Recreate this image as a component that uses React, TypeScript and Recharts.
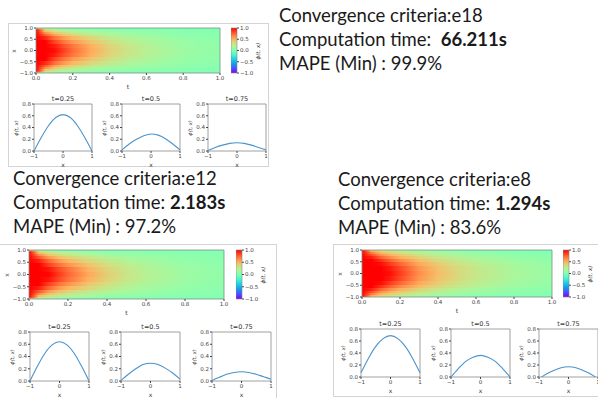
import React from "react";
import { ComposedChart, LineChart, Line, XAxis, YAxis, ReferenceArea } from "recharts";

// heatmap samples: t positions of the gradient stops, |x| positions of the rows
const T_STOPS = [0, 0.05, 0.1, 0.15, 0.2, 0.3, 0.4, 0.5, 0.6, 0.8, 1.0];
const ROW_POS = [0, 0.2, 0.4, 0.55, 0.7, 0.8, 0.88, 0.94, 0.98, 1.0];

const FIELD_E18 = [
  [1.3, 1.12, 0.97, 0.84, 0.72, 0.53, 0.39, 0.29, 0.22, 0.12, 0.07],
  [1.3, 1.09, 0.93, 0.8, 0.69, 0.51, 0.37, 0.28, 0.21, 0.11, 0.07],
  [1.28, 1.0, 0.83, 0.7, 0.59, 0.44, 0.32, 0.24, 0.18, 0.1, 0.06],
  [1.25, 0.9, 0.72, 0.59, 0.49, 0.36, 0.26, 0.19, 0.15, 0.08, 0.05],
  [1.2, 0.76, 0.57, 0.45, 0.37, 0.27, 0.19, 0.14, 0.11, 0.06, 0.04],
  [1.15, 0.62, 0.44, 0.34, 0.27, 0.19, 0.14, 0.1, 0.08, 0.04, 0.03],
  [1.05, 0.46, 0.31, 0.23, 0.18, 0.12, 0.09, 0.06, 0.05, 0.03, 0.02],
  [0.9, 0.3, 0.18, 0.13, 0.1, 0.07, 0.05, 0.03, 0.03, 0.02, 0.01],
  [0.6, 0.15, 0.08, 0.06, 0.04, 0.03, 0.02, 0.01, 0.01, 0.01, 0],
  [0.3, 0.05, 0.02, 0.01, 0.01, 0.01, 0, 0, 0, 0, 0],
];

const FIELD_E12 = [
  [1.3, 1.14, 0.99, 0.86, 0.74, 0.55, 0.4, 0.29, 0.22, 0.12, 0.07],
  [1.3, 1.11, 0.95, 0.82, 0.71, 0.52, 0.38, 0.28, 0.21, 0.11, 0.07],
  [1.28, 1.02, 0.85, 0.72, 0.61, 0.45, 0.33, 0.24, 0.18, 0.1, 0.06],
  [1.25, 0.92, 0.74, 0.6, 0.5, 0.37, 0.27, 0.2, 0.15, 0.08, 0.05],
  [1.2, 0.78, 0.59, 0.47, 0.38, 0.28, 0.2, 0.15, 0.11, 0.06, 0.04],
  [1.15, 0.64, 0.45, 0.35, 0.28, 0.2, 0.14, 0.1, 0.08, 0.05, 0.03],
  [1.05, 0.48, 0.32, 0.24, 0.19, 0.13, 0.09, 0.07, 0.05, 0.03, 0.02],
  [0.9, 0.31, 0.19, 0.14, 0.1, 0.07, 0.05, 0.04, 0.03, 0.02, 0.01],
  [0.6, 0.15, 0.08, 0.06, 0.04, 0.03, 0.02, 0.02, 0.01, 0.01, 0.01],
  [0.3, 0.05, 0.02, 0.01, 0.01, 0.01, 0.01, 0.01, 0.01, 0.01, 0.01],
];

const FIELD_E8 = [
  [1.3, 1.2, 1.08, 0.96, 0.85, 0.62, 0.47, 0.36, 0.28, 0.17, 0.1],
  [1.3, 1.18, 1.05, 0.93, 0.82, 0.6, 0.45, 0.35, 0.27, 0.16, 0.1],
  [1.28, 1.12, 0.97, 0.85, 0.74, 0.54, 0.41, 0.31, 0.24, 0.14, 0.09],
  [1.25, 1.05, 0.88, 0.75, 0.64, 0.47, 0.35, 0.27, 0.2, 0.12, 0.07],
  [1.2, 0.92, 0.74, 0.62, 0.52, 0.38, 0.28, 0.21, 0.16, 0.09, 0.05],
  [1.15, 0.8, 0.62, 0.51, 0.42, 0.3, 0.22, 0.16, 0.12, 0.07, 0.03],
  [1.1, 0.68, 0.5, 0.4, 0.33, 0.23, 0.16, 0.12, 0.08, 0.04, 0.02],
  [1.05, 0.55, 0.38, 0.3, 0.24, 0.17, 0.12, 0.08, 0.05, 0.02, 0],
  [1.0, 0.45, 0.3, 0.23, 0.19, 0.13, 0.09, 0.05, 0.03, 0, -0.02],
  [0.95, 0.4, 0.26, 0.2, 0.16, 0.11, 0.07, 0.04, 0.01, -0.02, -0.03],
];

const T_TICKS = [0, 0.2, 0.4, 0.6, 0.8, 1.0];
const X_TICKS = [-1, -0.5, 0, 0.5, 1];
const CBAR_TICKS = [-1, -0.5, 0, 0.5, 1];
const CBAR_LEVELS = [1, 0.8, 0.6, 0.4, 0.2, 0, -0.2, -0.4, -0.6, -0.8, -1];

// slices phi(t, x) at t = 0.25 / 0.5 / 0.75
const SLICE_TITLES = ["t=0.25", "t=0.5", "t=0.75"];
const SLICE_X = [-1, -0.75, -0.5, -0.25, 0, 0.25, 0.5, 0.75, 1];
const SLICE_TICKS_X = [-1, 0, 1];
const SLICE_TICKS_Y = [0, 0.2, 0.4, 0.6, 0.8];

const SLICES_E18 = [
  [0, 0.23, 0.43, 0.57, 0.62, 0.57, 0.43, 0.23, 0],
  [0.02, 0.12, 0.2, 0.26, 0.29, 0.27, 0.21, 0.12, 0.02],
  [0.01, 0.06, 0.1, 0.13, 0.14, 0.13, 0.1, 0.06, 0.02],
];
const SLICES_E12 = [
  [0, 0.24, 0.45, 0.59, 0.64, 0.59, 0.45, 0.24, 0],
  [0.01, 0.11, 0.2, 0.27, 0.29, 0.27, 0.21, 0.13, 0.03],
  [0.01, 0.06, 0.11, 0.14, 0.15, 0.14, 0.11, 0.07, 0.03],
];
const SLICES_E8 = [
  [0.07, 0.31, 0.51, 0.64, 0.69, 0.64, 0.51, 0.31, 0.07],
  [0, 0.14, 0.26, 0.33, 0.36, 0.33, 0.26, 0.14, 0],
  [-0.03, 0.05, 0.11, 0.155, 0.17, 0.155, 0.11, 0.05, -0.03],
];

const CRITERIA = ["e18", "e12", "e8"];
const TIMES = ["66.211s", "2.183s", "1.294s"];
const MAPE = ["99.9%", "97.2%", "83.6%"];

const TICK_FONT = { fontSize: 5.5, fill: "#444", fontFamily: "DejaVu Sans" };
const LABEL_FONT = "DejaVu Sans";

// matplotlib "rainbow", vmin -1 / vmax 1
function rainbow(v: number) {
  const n = Math.min(1, Math.max(0, (v + 1) / 2));
  const r = Math.min(1, Math.abs(2 * n - 0.5));
  const g = Math.sin(Math.PI * n);
  const b = Math.cos((Math.PI * n) / 2);
  return `rgb(${Math.round(r * 255)},${Math.round(g * 255)},${Math.round(b * 255)})`;
}

const fmt = (d: number) => (v: number) => v.toFixed(d).replace("-", "\u2212");

function Txt({ x, y, rot, size = 6, children, italic }: any) {
  return (
    <div
      style={{
        position: "absolute",
        left: x,
        top: y,
        transform: `translate(-50%, -50%)${rot ? " rotate(-90deg)" : ""}`,
        whiteSpace: "nowrap",
        fontSize: size,
        fontFamily: LABEL_FONT,
        fontStyle: italic ? "italic" : "normal",
        color: "#333",
        lineHeight: 1,
      }}
    >
      {children}
    </div>
  );
}

function Heatmap({ id, left, top, w, h, field }: any) {
  const last = ROW_POS.length - 1;
  const bands: { key: string; y1: number; y2: number; row: number }[] = [];
  ROW_POS.forEach((r, i) => {
    const lo = i === 0 ? 0 : (ROW_POS[i - 1] + r) / 2;
    const hi = i === last ? 1 : (r + ROW_POS[i + 1]) / 2;
    if (i === 0) bands.push({ key: "c", y1: -hi, y2: hi, row: 0 });
    else {
      bands.push({ key: `p${i}`, y1: lo, y2: hi, row: i });
      bands.push({ key: `n${i}`, y1: -hi, y2: -lo, row: i });
    }
  });
  return (
    <div style={{ position: "absolute", left: left - 30, top: top - 4 }}>
      <ComposedChart
        width={w + 40}
        height={h + 22}
        margin={{ top: 4, right: 10, bottom: 0, left: 0 }}
        data={[{ t: 0, x: -1 }, { t: 1, x: 1 }]}
      >
        <defs>
          {field.map((row: number[], i: number) => (
            <linearGradient key={i} id={`${id}-g${i}`} x1="0" y1="0" x2="1" y2="0">
              {row.map((v, j) => (
                <stop key={j} offset={T_STOPS[j]} stopColor={rainbow(v)} />
              ))}
            </linearGradient>
          ))}
        </defs>
        <XAxis
          type="number" dataKey="t" domain={[0, 1]} ticks={T_TICKS} interval={0}
          height={18} tick={TICK_FONT} tickFormatter={fmt(1)} tickSize={2} tickMargin={1}
          axisLine={false} stroke="#444"
        />
        <YAxis
          type="number" dataKey="x" domain={[-1, 1]} ticks={X_TICKS} interval={0}
          width={30} tick={TICK_FONT} tickFormatter={fmt(1)} tickSize={2} tickMargin={1}
          axisLine={false} stroke="#444"
        />
        {bands.map((b) => (
          <ReferenceArea
            key={b.key} x1={0} x2={1} y1={b.y1} y2={b.y2}
            fill={`url(#${id}-g${b.row})`} fillOpacity={1} stroke="none"
            shapeRendering="crispEdges"
          />
        ))}
        <ReferenceArea x1={0} x2={1} y1={-1} y2={1} fill="none" stroke="#7d8f85" strokeWidth={0.8} />
      </ComposedChart>
      <Txt x={8} y={4 + h / 2} rot>x</Txt>
      <Txt x={30 + w / 2} y={4 + h + 14}>t</Txt>
    </div>
  );
}

function Colorbar({ id, left, top, h }: any) {
  return (
    <div style={{ position: "absolute", left, top: top - 4 }}>
      <ComposedChart width={32} height={h + 8} margin={{ top: 4, right: 0, bottom: 4, left: 0 }}
        data={[{ c: 0, v: -1 }, { c: 1, v: 1 }]}>
        <defs>
          <linearGradient id={`${id}-cb`} x1="0" y1="0" x2="0" y2="1">
            {CBAR_LEVELS.map((v, i) => (
              <stop key={i} offset={i / (CBAR_LEVELS.length - 1)} stopColor={rainbow(v)} />
            ))}
          </linearGradient>
        </defs>
        <XAxis type="number" dataKey="c" domain={[0, 1]} hide />
        <YAxis
          type="number" dataKey="v" orientation="right" domain={[-1, 1]} ticks={CBAR_TICKS}
          interval={0} width={26} tick={TICK_FONT} tickFormatter={fmt(1)} tickSize={2}
          tickMargin={1} axisLine={false} stroke="#444"
        />
        <ReferenceArea x1={0} x2={1} y1={-1} y2={1} fill={`url(#${id}-cb)`} fillOpacity={1}
          stroke="#7d8f85" strokeWidth={0.6} />
      </ComposedChart>
      <Txt x={28} y={4 + h / 2} rot size={5.5} italic>ϕ(t, x)</Txt>
    </div>
  );
}

function Slice({ left, top, w, h, title, values }: any) {
  const data = SLICE_X.map((x, i) => ({ x, v: values[i] }));
  return (
    <div style={{ position: "absolute", left: left - 24, top: top - 3 }}>
      <LineChart width={w + 32} height={h + 17} data={data} margin={{ top: 3, right: 8, bottom: 0, left: 0 }}>
        <XAxis
          type="number" dataKey="x" domain={[-1, 1]} ticks={SLICE_TICKS_X} interval={0}
          height={14} tick={TICK_FONT} tickFormatter={fmt(0)} tickSize={2} tickMargin={1}
          axisLine={false} stroke="#444"
        />
        <YAxis
          type="number" domain={[0, 0.8]} ticks={SLICE_TICKS_Y} interval={0} allowDataOverflow
          width={24} tick={TICK_FONT} tickFormatter={fmt(1)} tickSize={2} tickMargin={1}
          axisLine={false} stroke="#444"
        />
        <ReferenceArea x1={-1} x2={1} y1={0} y2={0.8} fill="none" stroke="#888" strokeWidth={0.8} />
        <Line dataKey="v" type="monotone" stroke="#4a93cc" strokeWidth={1.1} dot={false}
          isAnimationActive={false} />
      </LineChart>
      <Txt x={24 + w / 2} y={-2} size={6.5}>{title}</Txt>
      <Txt x={24 + w / 2} y={3 + h + 13.5}>x</Txt>
      <Txt x={6} y={3 + h / 2} rot size={5} italic>ϕ(t, x)</Txt>
    </div>
  );
}

const PANELS = [
  {
    id: "e18", field: FIELD_E18, slices: SLICES_E18,
    heat: { left: 36, top: 28, w: 184, h: 45 }, cbLeft: 231,
    sl: { lefts: [34, 122, 208], top: 104, w: 58, h: 47 },
    frame: { left: 8, top: 23, width: 261, height: 144 },
    text: { left: 279, mid: 15 },
  },
  {
    id: "e12", field: FIELD_E12, slices: SLICES_E12,
    heat: { left: 29, top: 250, w: 195, h: 49 }, cbLeft: 236,
    sl: { lefts: [30, 121, 212], top: 332, w: 59, h: 49 },
    frame: { left: -1, top: 244, width: 278, height: 170 },
    text: { left: 13, mid: 178 },
  },
  {
    id: "e8", field: FIELD_E8, slices: SLICES_E8,
    heat: { left: 362, top: 250, w: 190, h: 47 }, cbLeft: 563,
    sl: { lefts: [361, 451, 539], top: 329, w: 59, h: 48 },
    frame: { left: 333, top: 244, width: 280, height: 153 },
    text: { left: 338, mid: 179 },
  },
];

const lineStyle = (left: number, mid: number): React.CSSProperties => ({
  position: "absolute", left, top: mid - 10, height: 20, lineHeight: "20px",
  fontFamily: "Lato, 'Open Sans', sans-serif", fontSize: 18.5, color: "#1a1a1a", whiteSpace: "pre",
});

export default function App() {
  return (
    <div style={{ position: "absolute", left: 0, top: 0, width: 598, height: 398, background: "#fff", overflow: "hidden" }}>
      {PANELS.map((p, k) => (
        <React.Fragment key={p.id}>
          <div style={{ position: "absolute", ...p.frame, border: "1px solid #d4d4d4", boxSizing: "border-box" }} />
          <Heatmap id={p.id} {...p.heat} field={p.field} />
          <Colorbar id={p.id} left={p.cbLeft} top={p.heat.top} h={p.heat.h} />
          {SLICE_TITLES.map((title, i) => (
            <Slice key={title} left={p.sl.lefts[i]} top={p.sl.top} w={p.sl.w} h={p.sl.h}
              title={title} values={p.slices[i]} />
          ))}
          <div style={lineStyle(p.text.left, p.text.mid)}>Convergence criteria:{CRITERIA[k]}</div>
          <div style={lineStyle(p.text.left, p.text.mid + 24)}>
            Computation time: {k === 0 ? " " : ""}<b>{TIMES[k]}</b>
          </div>
          <div style={lineStyle(p.text.left, p.text.mid + 48)}>MAPE (Min) : {MAPE[k]}</div>
        </React.Fragment>
      ))}
    </div>
  );
}
